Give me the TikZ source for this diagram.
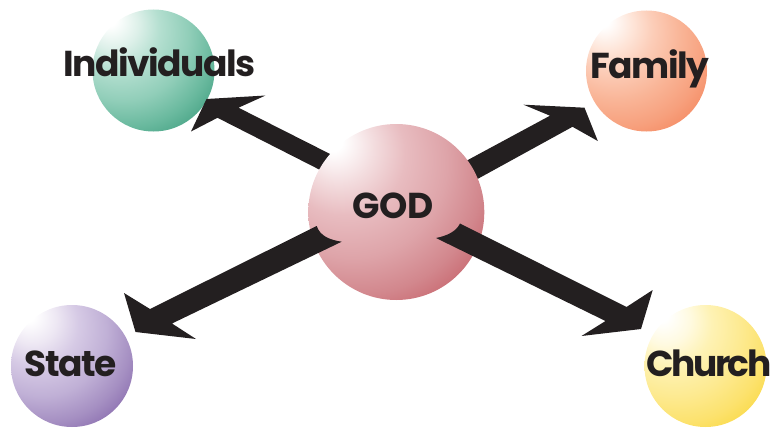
\documentclass[tikz,border=0pt]{standalone}
\usepackage{fontspec}
\setmainfont{Poppins}
\definecolor{ink}{HTML}{231F20}
\pgfdeclareradialshading{godball}{\pgfpoint{-12bp}{13.3bp}}{color(0bp)=(white); color(1.9bp)=(white); color(6.5bp)=(rgb,255:red,243;green,220;blue,222); color(11bp)=(rgb,255:red,232;green,188;blue,192); color(17bp)=(rgb,255:red,222;green,164;blue,169); color(22.2bp)=(rgb,255:red,210;green,135;blue,141); color(26.6bp)=(rgb,255:red,199;green,100;blue,108); color(30.4bp)=(rgb,255:red,188;green,64;blue,74); color(50bp)=(rgb,255:red,188;green,64;blue,74)}
\pgfdeclareradialshading{tealball}{\pgfpoint{-12bp}{13.9bp}}{color(0bp)=(white); color(1.9bp)=(white); color(6.5bp)=(rgb,255:red,221;green,240;blue,233); color(11bp)=(rgb,255:red,180;green,223;blue,208); color(17bp)=(rgb,255:red,145;green,206;blue,185); color(22.2bp)=(rgb,255:red,105;green,185;blue,158); color(26.6bp)=(rgb,255:red,70;green,162;blue,132); color(30.4bp)=(rgb,255:red,40;green,137;blue,105); color(50bp)=(rgb,255:red,40;green,137;blue,105)}
\pgfdeclareradialshading{oraball}{\pgfpoint{-12bp}{13.9bp}}{color(0bp)=(white); color(1.9bp)=(white); color(6.5bp)=(rgb,255:red,254;green,230;blue,218); color(11bp)=(rgb,255:red,252;green,205;blue,184); color(17bp)=(rgb,255:red,249;green,180;blue,150); color(22.2bp)=(rgb,255:red,247;green,160;blue,125); color(26.6bp)=(rgb,255:red,245;green,138;blue,98); color(30.4bp)=(rgb,255:red,241;green,117;blue,70); color(50bp)=(rgb,255:red,241;green,117;blue,70)}
\pgfdeclareradialshading{purball}{\pgfpoint{-12bp}{13.9bp}}{color(0bp)=(white); color(1.9bp)=(white); color(6.5bp)=(rgb,255:red,237;green,231;blue,243); color(11bp)=(rgb,255:red,214;green,202;blue,229); color(17bp)=(rgb,255:red,192;green,176;blue,214); color(22.2bp)=(rgb,255:red,165;green,143;blue,194); color(26.6bp)=(rgb,255:red,137;green,108;blue,174); color(30.4bp)=(rgb,255:red,106;green,70;blue,150); color(50bp)=(rgb,255:red,106;green,70;blue,150)}
\pgfdeclareradialshading{yelball}{\pgfpoint{-12bp}{13.9bp}}{color(0bp)=(white); color(1.9bp)=(white); color(6.5bp)=(rgb,255:red,255;green,250;blue,224); color(11bp)=(rgb,255:red,254;green,242;blue,180); color(17bp)=(rgb,255:red,253;green,234;blue,145); color(22.2bp)=(rgb,255:red,252;green,226;blue,110); color(26.6bp)=(rgb,255:red,250;green,217;blue,70); color(30.4bp)=(rgb,255:red,246;green,208;blue,24); color(50bp)=(rgb,255:red,246;green,208;blue,24)}
\begin{document}
\begin{tikzpicture}[x=1pt,y=-1pt,
  ball/.style 2 args={circle, inner sep=0pt, draw=none, minimum size=#2,
    path picture={\shade[shading=#1] (path picture bounding box.center)
      +(-0.791*#2,-0.791*#2) rectangle +(0.791*#2,0.791*#2);}},
  lbl/.style={font=\fontsize{36}{40}\selectfont\bfseries\addfontfeatures{LetterSpace=-4}, text=ink, inner sep=0pt, anchor=base},
  godlbl/.style={font=\fontsize{36}{40}\selectfont\bfseries, text=ink, inner sep=0pt, anchor=base},
  arrowfill/.style={fill=ink, draw=none}]
\useasboundingbox (0,0) rectangle (784,428);
% outer spheres
\node[ball={tealball}{122pt}] (indiv) at (153.5,70.5) {};
\node[ball={oraball}{121pt}] (family) at (646.5,71) {};
\node[ball={purball}{122pt}] (state) at (72,366) {};
\node[ball={yelball}{122pt}] (church) at (705.5,366) {};
% arrows passing behind GOD
\fill[arrowfill] (340,159) -- (238.5,107.7) -- (265.5,95.5) -- (206.5,99)
  -- (191,131.5) -- (217.5,117.8) -- (330,175) -- cycle;
\fill[arrowfill] (440,175) -- (550,115.7) -- (523.5,104.7) -- (584.5,107.7)
  -- (597.8,141) -- (572.5,126.8) -- (452,193) -- cycle;
% GOD sphere
\node[ball={godball}{176pt}] (god) at (396.3,212) {};
% arrows in front of GOD
\fill[arrowfill] (316.7,226) -- (150,309) -- (124,293) -- (135.5,332)
  -- (196,339) -- (172,323.5) -- (341.7,241.7)
  .. controls (330,240) and (320,236) .. (316.7,226) -- cycle;
\fill[arrowfill] (436,238) .. controls (446,236) and (456,232) .. (460,223.5)
  -- (626.5,307) -- (652.7,290) -- (641,329) -- (581.5,336)
  -- (605.5,321) -- cycle;
% labels
\node[lbl] (indivtext) at (159.5,76) {Individuals};
\node[lbl] (familytext) at (650,78) {Family};
\node[godlbl] (godtext) at (393,218.5) {GOD};
\node[lbl] (statetext) at (70.5,376) {State};
\node[lbl, font=\fontsize{36}{40}\selectfont\bfseries\addfontfeatures{LetterSpace=-7}] (churchtext) at (709,376) {Church};
\end{tikzpicture}
\end{document}
